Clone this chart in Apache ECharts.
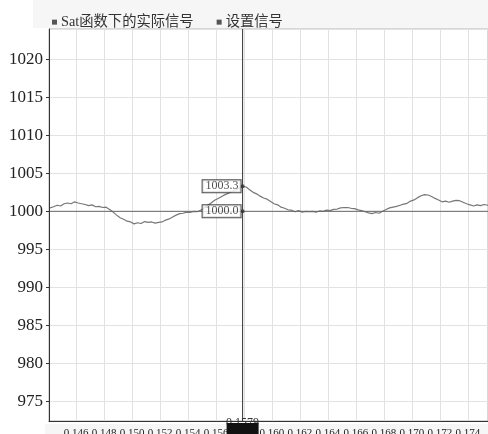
<!DOCTYPE html>
<html>
<head>
<meta charset="utf-8">
<script src="https://cdn.jsdelivr.net/npm/echarts@6/dist/echarts.min.js"></script>
<style>
  html, body { margin: 0; padding: 0; background: #fff; }
  #chart { width: 488px; height: 434px; }
</style>
</head>
<body>
<div id="chart"></div>
<script>
// Sampling clock of the recorded signal (seconds)
const T0 = 0.14415;
const DT = 0.00025;

// Series names
const SERIES_ACTUAL = 'Sat函数下的实际信号';
const SERIES_SET = '设置信号';

// Measured output under the saturation (Sat) function
const actualValues = [
  1000.45, 1000.6, 1000.8, 1000.7, 1001.0, 1001.1, 1001.0, 1001.25, 1001.1, 1001.0,
  1000.9, 1000.75, 1000.85, 1000.6, 1000.65, 1000.5, 1000.55, 1000.25, 999.9, 999.5,
  999.15, 998.95, 998.7, 998.6, 998.35, 998.5, 998.4, 998.65, 998.55, 998.6,
  998.45, 998.55, 998.6, 998.85, 999.0, 999.25, 999.5, 999.7, 999.75, 999.9,
  999.85, 1000.0, 999.95, 1000.15, 1000.45, 1000.8, 1001.1, 1001.45, 1001.7, 1001.95,
  1002.2, 1002.4, 1002.6, 1002.8, 1003.05, 1003.3, 1003.2, 1002.85, 1002.5, 1002.3,
  1002.0, 1001.75, 1001.6, 1001.3, 1001.0, 1000.85, 1000.55, 1000.4, 1000.2, 1000.15,
  999.95, 1000.1, 999.9, 1000.0, 999.95, 1000.0, 999.9, 1000.05, 1000.0, 1000.15,
  1000.1, 1000.25, 1000.3, 1000.45, 1000.5, 1000.5, 1000.4, 1000.35, 1000.2, 1000.1,
  999.95, 999.8, 999.7, 999.85, 999.75, 1000.0, 1000.25, 1000.45, 1000.55, 1000.65,
  1000.8, 1000.95, 1001.05, 1001.35, 1001.5, 1001.8, 1002.05, 1002.2, 1002.15, 1001.95,
  1001.7, 1001.5, 1001.25, 1001.35, 1001.2, 1001.35, 1001.45, 1001.4, 1001.2, 1001.0,
  1000.85, 1000.7, 1000.85, 1000.75, 1000.9, 1000.8, 1000.85
];

// Reference (set) signal level
const SETPOINT = 1000;

// Cursor position (sample index 55 -> t = 0.1579)
const CURSOR_INDEX = 55;

// Axis ranges
const X_MIN = 0.14407, X_MAX = 0.17543;
const Y_MIN = 972.4, Y_MAX = 1024;

const times = actualValues.map((_, i) => +(T0 + i * DT).toFixed(5));
const actualData = times.map((t, i) => [t, actualValues[i]]);
const setData = [[times[0], SETPOINT], [times[times.length - 1], SETPOINT]];
const cursorT = times[CURSOR_INDEX];
const cursorPoints = [[cursorT, actualValues[CURSOR_INDEX]], [cursorT, SETPOINT]];
const cursorLine = [[cursorT, Y_MIN], [cursorT, Y_MAX]];

const SERIF = "'Liberation Serif', 'DejaVu Serif', 'Noto Sans CJK SC', serif";

const chart = echarts.init(document.getElementById('chart'), null, { renderer: 'canvas' });

chart.setOption({
  animation: false,
  backgroundColor: '#fff',
  legend: {
    left: 47,
    top: 10,
    icon: 'rect',
    itemWidth: 5,
    itemHeight: 5,
    itemGap: 23,
    data: [SERIES_ACTUAL, SERIES_SET],
    textStyle: { fontFamily: SERIF, fontSize: 14.3, color: '#333', padding: [0, 0, 0, -1] }
  },
  grid: {
    left: 49, right: 0, top: 29, bottom: 13,
    containLabel: false,
    outerBoundsMode: 'none',
    show: true,
    borderColor: '#b0b0b0',
    borderWidth: 1
  },
  xAxis: {
    type: 'value',
    min: X_MIN,
    max: X_MAX,
    splitNumber: 15,
    axisLine: { show: true, onZero: false, lineStyle: { color: '#333' } },
    axisTick: { show: false },
    axisLabel: {
      showMinLabel: false, showMaxLabel: false,
      fontFamily: SERIF, fontSize: 11, color: '#222', margin: 7,
      formatter: v => v.toFixed(3)
    },
    splitLine: { show: true, lineStyle: { color: '#e2e2e2' } }
  },
  yAxis: {
    type: 'value',
    min: Y_MIN,
    max: Y_MAX,
    splitNumber: 10,
    axisLine: { show: true, lineStyle: { color: '#333' } },
    axisTick: { show: true, length: 3, lineStyle: { color: '#333' } },
    axisLabel: {
      showMinLabel: false, showMaxLabel: false,
      fontFamily: SERIF, fontSize: 17, color: '#222', margin: 6,
      formatter: v => String(v)
    },
    splitLine: { show: true, lineStyle: { color: '#e2e2e2' } }
  },
  series: [
    {
      name: SERIES_ACTUAL,
      type: 'line',
      data: actualData,
      showSymbol: false,
      color: '#555',
      lineStyle: { color: '#777', width: 1.2 }
    },
    {
      name: SERIES_SET,
      type: 'line',
      data: setData,
      showSymbol: false,
      color: '#555',
      lineStyle: { color: '#666', width: 1 }
    },
    {
      name: 'cursorLine',
      type: 'line',
      data: cursorLine,
      showSymbol: false,
      silent: true,
      lineStyle: { color: '#333', width: 1 },
      z: 4
    },
    {
      name: 'cursor',
      type: 'scatter',
      data: cursorPoints,
      symbolSize: 4,
      itemStyle: { color: '#333' },
      z: 5,
      label: {
        show: true,
        position: 'left',
        distance: 0,
        formatter: p => p.value[1].toFixed(1),
        fontFamily: SERIF,
        fontSize: 12,
        color: '#222',
        backgroundColor: '#fff',
        borderColor: '#222',
        borderWidth: 1,
        padding: [0, 2, 0, 3]
      }
    }
  ]
});

// Cursor time tag on the bottom axis
const cx = chart.convertToPixel({ xAxisIndex: 0 }, cursorT);
const by = chart.convertToPixel({ yAxisIndex: 0 }, Y_MIN);
chart.setOption({
  graphic: [
    { type: 'rect', silent: true, z: -10, shape: { x: 33, y: 0, width: 455, height: 28 }, style: { fill: '#f6f6f6' } },
    { type: 'rect', silent: true, z: -10, shape: { x: 45, y: by + 3, width: 443, height: 20 }, style: { fill: '#f6f6f6' } },
    { type: 'text', silent: true, z: 100, x: cx, y: by - 4,
      style: { text: cursorT.toFixed(4), font: "12px 'Liberation Serif'", fill: '#333', align: 'center', verticalAlign: 'top' } },
    { type: 'rect', silent: true, z: 101, shape: { x: cx - 16, y: by + 2, width: 32, height: 14 }, style: { fill: '#111' } }
  ]
});
</script>
</body>
</html>
